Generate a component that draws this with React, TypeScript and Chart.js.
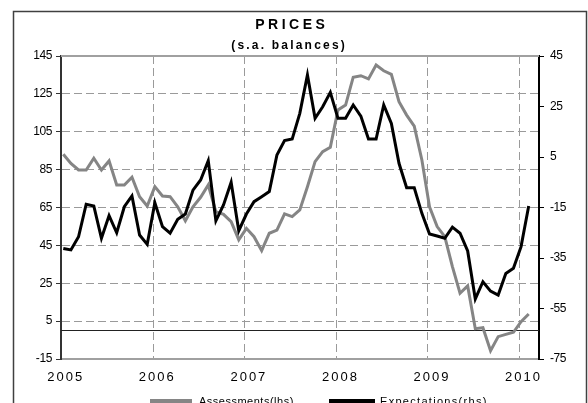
import React, { useEffect, useRef } from 'react';
import { Chart, registerables } from 'chart.js';

Chart.register(...registerables);

// ---- data (monthly, Jan 2005 .. Feb 2010) ----
const yearLabels = ['2005', '2006', '2007', '2008', '2009', '2010'];

const assessments = [
  93.1, 88.3, 84.8, 84.8, 91.0, 84.8, 89.6, 76.9, 76.9, 81.0, 70.7, 65.8,
  76.0, 71.1, 70.7, 65.4, 58.0, 65.4, 70.4, 76.9, 62.8, 61.4, 57.5, 47.9,
  54.0, 49.6, 42.2, 51.4, 53.1, 61.6, 60.2, 63.7, 76.0, 89.2, 94.5, 96.8,
  116.5, 119.1, 133.8, 134.6, 132.9, 140.2, 137.2, 135.3, 120.9, 113.8, 108.0, 90.1,
  65.4, 54.9, 49.6, 33.8, 19.7, 23.6, 1.0, 1.5, -10.6, -3.2, -2.0, -0.9,
  4.7, 8.8,
];

const expectations = [
  -31.2, -31.8, -26.6, -13.7, -14.4, -27.2, -18.2, -25.0, -14.7, -10.4, -25.9, -29.6,
  -13.1, -22.6, -25.2, -19.7, -17.6, -8.1, -4.1, 3.5, -20.3, -14.0, -5.0, -24.2,
  -17.6, -12.7, -10.7, -8.7, 5.8, 11.5, 12.1, 22.3, 37.5, 20.3, 24.9, 30.6,
  20.3, 20.3, 25.6, 21.2, 12.1, 12.1, 25.6, 18.3, 2.5, -7.2, -7.2, -17.3,
  -25.5, -26.3, -27.2, -22.8, -25.2, -32.2, -51.2, -44.4, -48.1, -49.7, -41.1, -39.1,
  -30.5, -14.4,
];

const leftAxis = { min: -15, max: 145, step: 20 };
const rightAxis = { min: -75, max: 45, step: 20 };

const titleText = 'PRICES';
const subtitleText = '(s.a. balances)';
const seriesNames = ['Assessments(lhs)', 'Expectations(rhs)'];

const GRAY = '#858585';
const BLACK = '#000000';
const GRID = '#9a9a9a';
const FONT = "'Liberation Sans', Arial, Helvetica, sans-serif";

export default function App() {
  const ref = useRef<HTMLCanvasElement | null>(null);

  useEffect(() => {
    const canvas = ref.current;
    if (!canvas) return;

    const decor = {
      id: 'decor',
      beforeDraw(chart: any) {
        chart.ctx.letterSpacing = '-0.4px';
      },
      beforeDatasetsDraw(chart: any) {
        const { ctx, chartArea: a, scales } = chart;
        ctx.save();
        ctx.setLineDash([]);
        // top border of plot area
        ctx.lineWidth = 2;
        ctx.strokeStyle = '#a0a0a0';
        ctx.beginPath();
        ctx.moveTo(a.left, a.top);
        ctx.lineTo(a.right, a.top);
        ctx.stroke();
        // zero line on left axis
        const y0 = Math.round(scales.y.getPixelForValue(0)) - 0.5;
        ctx.lineWidth = 1.2;
        ctx.strokeStyle = '#222';
        ctx.beginPath();
        ctx.moveTo(a.left, y0);
        ctx.lineTo(a.right, y0);
        ctx.stroke();
        ctx.restore();
      },
      afterDatasetsDraw(chart: any) {
        chart.ctx.letterSpacing = '2px';
      },
      afterDraw(chart: any) {
        const ctx = chart.ctx as CanvasRenderingContext2D;
        ctx.save();
        (ctx as any).letterSpacing = '0px';
        ctx.setLineDash([]);
        // outer frame
        ctx.strokeStyle = '#404040';
        ctx.lineWidth = 1.5;
        ctx.strokeRect(13.5, 11.5, 573, 420);

        const drawSpaced = (text: string, cx: number, baseY: number, font: string, ls: number) => {
          ctx.font = font;
          (ctx as any).letterSpacing = ls + 'px';
          const w = ctx.measureText(text).width - ls;
          ctx.textAlign = 'left';
          ctx.textBaseline = 'alphabetic';
          ctx.fillStyle = '#000';
          ctx.fillText(text, cx - w / 2, baseY);
        };
        drawSpaced(titleText, 290, 28.5, `bold 14px ${FONT}`, 3.5);
        drawSpaced(subtitleText, 288, 49.3, `bold 12px ${FONT}`, 2.2);

        // legend
        const legendY = 401;
        const items = [
          { name: seriesNames[0], color: GRAY, x1: 150, x2: 192, tx: 199, ls: 0.5 },
          { name: seriesNames[1], color: BLACK, x1: 329, x2: 375, tx: 380, ls: 1.3 },
        ];
        for (const it of items) {
          ctx.strokeStyle = it.color;
          ctx.lineWidth = 4;
          ctx.beginPath();
          ctx.moveTo(it.x1, legendY);
          ctx.lineTo(it.x2, legendY);
          ctx.stroke();
          ctx.font = `11px ${FONT}`;
          (ctx as any).letterSpacing = it.ls + 'px';
          ctx.fillStyle = '#000';
          ctx.textAlign = 'left';
          ctx.textBaseline = 'alphabetic';
          ctx.fillText(it.name, it.tx, 405);
        }
        ctx.restore();
        (ctx as any).letterSpacing = '0px';
      },
    };

    const chart = new Chart(canvas, {
      type: 'line',
      data: {
        datasets: [
          {
            label: seriesNames[0],
            data: assessments.map((v, i) => ({ x: i, y: v })),
            yAxisID: 'y',
            borderColor: GRAY,
            backgroundColor: GRAY,
            borderWidth: 3,
            pointRadius: 0,
            tension: 0,
            order: 1,
          },
          {
            label: seriesNames[1],
            data: expectations.map((v, i) => ({ x: i, y: v })),
            yAxisID: 'y1',
            borderColor: BLACK,
            backgroundColor: BLACK,
            borderWidth: 3,
            pointRadius: 0,
            tension: 0,
            order: 0,
          },
        ],
      },
      options: {
        animation: false,
        responsive: false,
        devicePixelRatio: 1,
        layout: { padding: { top: 56, left: 13, right: 0, bottom: 14 } },
        plugins: {
          legend: { display: false },
          title: { display: false },
          tooltip: { enabled: false },
        },
        font: { family: FONT },
        scales: {
          x: {
            type: 'linear',
            min: -0.3,
            max: 62.35,
            afterBuildTicks: (s: any) => {
              s.ticks = yearLabels.map((_, k) => ({ value: k * 12 - 0.2 }));
            },
            afterFit: (s: any) => {
              s.height = 30;
            },
            ticks: {
              callback: (_v: any, i: number) => yearLabels[i],
              autoSkip: false,
              maxRotation: 0,
              minRotation: 0,
              padding: 11,
              labelOffset: 4,
              color: '#000',
              font: { family: FONT, size: 13 },
              z: 1,
            },
            grid: {
              drawTicks: false,
              lineWidth: 1,
              color: (c: any) => (c.index === 0 ? 'rgba(0,0,0,0)' : GRID),
            },
            border: { color: '#a0a0a0', width: 2, dash: [8, 4] },
          },
          y: {
            type: 'linear',
            position: 'left',
            min: leftAxis.min,
            max: leftAxis.max,
            afterFit: (s: any) => {
              s.width = 48;
            },
            ticks: {
              stepSize: leftAxis.step,
              padding: 4,
              color: '#000',
              font: { family: FONT, size: 12 },
            },
            grid: {
              lineWidth: 1,
              tickLength: 5,
              tickColor: '#333',
              tickBorderDash: [],
              color: (c: any) =>
                c.tick && (c.tick.value === leftAxis.max || c.tick.value === leftAxis.min)
                  ? 'rgba(0,0,0,0)'
                  : GRID,
            },
            border: { color: '#333', width: 2, dash: [8, 4] },
          },
          y1: {
            type: 'linear',
            position: 'right',
            min: rightAxis.min,
            max: rightAxis.max,
            afterFit: (s: any) => {
              s.width = 49;
            },
            ticks: {
              stepSize: rightAxis.step,
              padding: 6,
              color: '#000',
              font: { family: FONT, size: 12 },
            },
            grid: {
              drawOnChartArea: false,
              tickLength: 5,
              tickColor: '#000',
              tickBorderDash: [],
            },
            border: { color: '#000', width: 2 },
          },
        },
      } as any,
      plugins: [decor],
    });

    return () => {
      chart.destroy();
    };
  }, []);

  return (
    <div style={{ position: 'fixed', left: 0, top: 0, width: 588, height: 403, background: '#fff' }}>
      <canvas ref={ref} width={588} height={403} style={{ display: 'block', width: 588, height: 403 }} />
    </div>
  );
}
